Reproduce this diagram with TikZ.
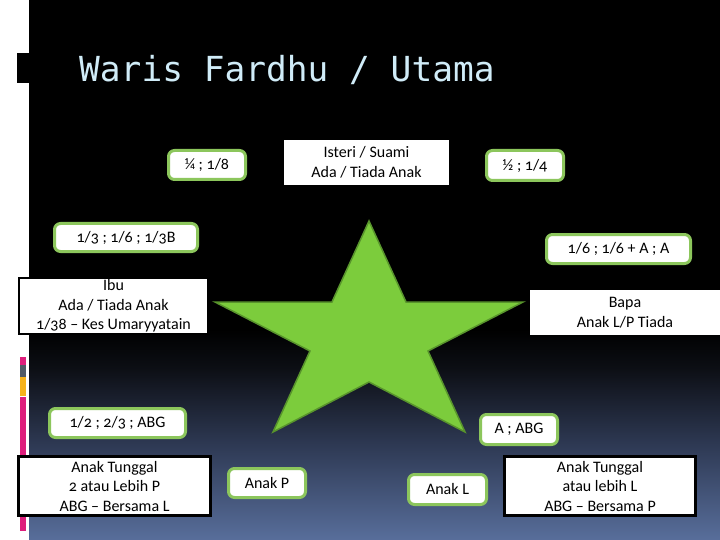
\documentclass[tikz,border=0pt]{standalone}
\usepackage{fontspec}
\setmainfont{Carlito}[Numbers=OldStyle]
\newfontfamily\titlefont{DejaVu Sans Mono}
\definecolor{bgblue}{RGB}{88,110,155}
\definecolor{bgmid}{RGB}{45,56,82}
\definecolor{bgdark}{RGB}{12,14,20}
\definecolor{titleblue}{RGB}{208,236,248}
\definecolor{boxgreen}{RGB}{140,198,92}
\definecolor{starfill}{RGB}{124,204,60}
\definecolor{starline}{RGB}{88,148,44}
\definecolor{barpink}{RGB}{222,30,124}
\definecolor{bargrey}{RGB}{80,90,102}
\definecolor{barorange}{RGB}{246,178,26}
\pgfdeclareverticalshading{bgshade}{100bp}{color(0bp)=(bgblue); color(25bp)=(bgblue); color(34bp)=(bgmid); color(41bp)=(bgdark); color(44.5bp)=(black); color(100bp)=(black)}
\tikzset{
  gbox/.style={draw=boxgreen, line width=3pt, fill=white, rounded corners=6pt, inner sep=0pt, font=\fontsize{16}{19.5}\selectfont, text=black},
  wbox/.style={fill=white, inner sep=0pt, align=center, font=\fontsize{16}{19.5}\selectfont, text=black},
}
\begin{document}
\begin{tikzpicture}[x=1pt,y=-1pt]
\useasboundingbox (0,0) rectangle (720,540);
\fill[white] (0,0) rectangle (720,540);
\shade[shading=bgshade] (29,0) rectangle (720,540);
% title marker
\fill[black] (17,53) rectangle (29,83);
% left colour bar
\fill[barpink] (20,357) rectangle (26,365);
\fill[bargrey] (20,365) rectangle (26,377);
\fill[barorange] (20,377) rectangle (26,396);
\fill[barpink] (20,397) rectangle (26,531);
% title
\node[anchor=base west, inner sep=0pt, text=titleblue, font=\titlefont\fontsize{34.5}{40}\selectfont] (title) at (79,82) {Waris Fardhu / Utama};
% star
\filldraw[fill=starfill, draw=starline, line width=1.5pt, line join=miter]
  (369,221) -- (406,302) -- (523,302) -- (428,351) -- (465,432) -- (369,382)
  -- (273,432) -- (310,351) -- (215,302) -- (332,302) -- cycle;
% green rounded boxes
\node[gbox, minimum width=77pt, minimum height=29pt] (q1) at (207,165) {¼ ; 1/8};
\node[gbox, minimum width=77pt, minimum height=30pt] (q2) at (525,165.5) {½ ; 1/4};
\node[gbox, minimum width=143pt, minimum height=28pt] (q3) at (126,237.5) {1/3 ; 1/6 ; 1/3B};
\node[gbox, minimum width=144pt, minimum height=29pt] (q4) at (618.5,249) {1/6 ; 1/6 + A ; A};
\node[gbox, minimum width=136pt, minimum height=29pt] (q5) at (117.5,423) {1/2 ; 2/3 ; ABG};
\node[gbox, minimum width=77pt, minimum height=29pt] (q6) at (267,483) {Anak P};
\node[gbox, minimum width=77pt, minimum height=30pt] (q7) at (519,429.5) {A ; ABG};
\node[gbox, minimum width=78pt, minimum height=30pt] (q8) at (447.5,489.5) {Anak L};
% white boxes
\node[wbox, minimum width=165pt, minimum height=45pt] (isteri) at (366.5,162.5) {Isteri / Suami\\Ada / Tiada Anak};
\node[wbox, draw=black, line width=2pt, minimum width=189pt, minimum height=56pt] (ibu) at (113.5,306) {Ibu\\Ada / Tiada Anak\\1/38 – Kes Umaryyatain};
\node[wbox, minimum width=190pt, minimum height=45pt] (bapa) at (625,312.5) {Bapa\\Anak L/P Tiada};
\node[wbox, draw=black, line width=3pt, minimum width=192pt, minimum height=59pt] (ap) at (114.5,486) {Anak Tunggal\\2 atau Lebih P\\ABG – Bersama L};
\node[wbox, draw=black, line width=3pt, minimum width=191pt, minimum height=59pt] (al) at (600,486) {Anak Tunggal\\atau lebih L\\ABG – Bersama P};
\end{tikzpicture}
\end{document}
